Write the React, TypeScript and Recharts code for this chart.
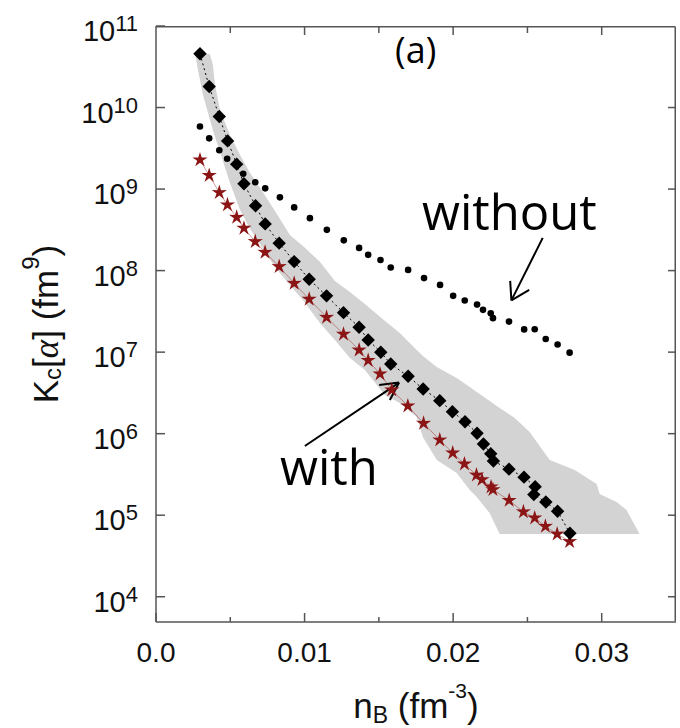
import React from 'react';
import {
  ComposedChart,
  Area,
  Scatter,
  XAxis,
  YAxis,
  ReferenceLine,
  ReferenceDot,
} from 'recharts';

// ---------- data ----------
const withoutX = [0.00296, 0.00358, 0.00426, 0.00479, 0.00587, 0.00668, 0.00735, 0.00834, 0.0093, 0.01036, 0.0115, 0.01264, 0.01367, 0.01428, 0.01511, 0.0158, 0.01697, 0.01804, 0.01912, 0.02, 0.02078, 0.02161, 0.02201, 0.02253, 0.02268, 0.02376, 0.02478, 0.02549, 0.02623, 0.02703, 0.02784];
const withoutY = [5.85e9, 4.19e9, 2.99e9, 2.35e9, 1.54e9, 1.21e9, 1.02e9, 7.91e8, 5.96e8, 4.4e8, 3.16e8, 2.35e8, 1.9e8, 1.56e8, 1.35e8, 1.09e8, 1.02e8, 8.09e7, 6.68e7, 4.9e7, 4.29e7, 3.83e7, 3.3e7, 3.0e7, 2.61e7, 2.37e7, 1.9e7, 1.91e7, 1.45e7, 1.24e7, 9.86e6];

const diamondX = [0.00296, 0.00358, 0.00426, 0.00482, 0.00543, 0.00592, 0.0067, 0.00735, 0.00829, 0.0093, 0.01031, 0.01148, 0.01262, 0.01367, 0.01428, 0.01513, 0.0158, 0.01697, 0.01798, 0.0191, 0.01995, 0.0208, 0.02161, 0.02204, 0.02253, 0.02271, 0.02376, 0.02477, 0.02552, 0.02543, 0.02624, 0.02703, 0.02786];
const diamondY = [4.56e10, 1.81e10, 7.76e9, 3.9e9, 2.02e9, 1.16e9, 6.24e8, 3.74e8, 2.17e8, 1.29e8, 7.84e7, 4.9e7, 3.05e7, 2.02e7, 1.41e7, 9.97e6, 7.16e6, 5.06e6, 3.53e6, 2.54e6, 1.86e6, 1.4e6, 1.01e6, 7.48e5, 5.69e5, 4.62e5, 3.67e5, 2.93e5, 2.24e5, 1.79e5, 1.45e5, 1.12e5, 6.0e4];

const starX = [0.00296, 0.00358, 0.00426, 0.00481, 0.00543, 0.00592, 0.00668, 0.00734, 0.00829, 0.0093, 0.01031, 0.01148, 0.01262, 0.01367, 0.01428, 0.01508, 0.01587, 0.01695, 0.01801, 0.0191, 0.01997, 0.02076, 0.02157, 0.02194, 0.02255, 0.02268, 0.02377, 0.02473, 0.02549, 0.02621, 0.027, 0.02784];
const starY = [2.28e9, 1.47e9, 9.06e8, 6.4e8, 4.5e8, 3.31e8, 2.27e8, 1.68e8, 1.12e8, 7.0e7, 4.46e7, 2.68e7, 1.66e7, 1.06e7, 7.91e6, 5.4e6, 3.44e6, 2.19e6, 1.34e6, 8.37e5, 5.8e5, 4.25e5, 3.11e5, 2.73e5, 2.22e5, 2.06e5, 1.52e5, 1.1e5, 9.25e4, 7.31e4, 5.88e4, 4.76e4];

const bandX = [0.00262, 0.00282, 0.00316, 0.00363, 0.00383, 0.00397, 0.0043, 0.00498, 0.00565, 0.00632, 0.00713, 0.008, 0.00901, 0.00989, 0.01103, 0.01204, 0.01305, 0.01406, 0.0154, 0.01641, 0.01755, 0.01796, 0.0189, 0.02024, 0.02112, 0.02159, 0.02246, 0.02313, 0.02414, 0.02515, 0.0265, 0.02818, 0.02966, 0.02986, 0.031, 0.03167, 0.03255];
const bandLo = [4.69e10, 2.9e10, 1.43e10, 7.06e9, 5.32e9, 4.37e9, 2.86e9, 1.19e9, 5.56e8, 3.25e8, 1.95e8, 1.11e8, 6.68e7, 4.37e7, 2.28e7, 1.41e7, 8.49e6, 6.05e6, 2.99e6, 2.38e6, 1.6e6, 9.12e5, 4.76e5, 3.29e5, 2.04e5, 1.67e5, 1.06e5, 5.88e4, 5.88e4, 5.88e4, 5.88e4, 5.88e4, 5.88e4, 5.88e4, 5.88e4, 5.88e4, 5.88e4];
const bandHi = [4.69e10, 4.69e10, 4.62e10, 4.5e10, 3.34e10, 1.9e10, 9.37e9, 4.62e9, 2.63e9, 1.58e9, 9.51e8, 5.41e8, 2.74e8, 2.01e8, 1.28e8, 7.48e7, 5.48e7, 3.9e7, 2.42e7, 1.72e7, 1.06e7, 8.98e6, 6.58e6, 4.82e6, 3.74e6, 3.25e6, 2.52e6, 2.07e6, 1.56e6, 1.05e6, 4.76e5, 3.59e5, 2.41e5, 1.82e5, 1.45e5, 1.16e5, 5.88e4];

const xTicks = [0, 0.005, 0.01, 0.015, 0.02, 0.025, 0.03];
const xTickLabels = ['0.0', '', '0.01', '', '0.02', '', '0.03'];
const yTicks = [1e4, 1e5, 1e6, 1e7, 1e8, 1e9, 1e10, 1e11];
const yTickExponents = ['4', '5', '6', '7', '8', '9', '10', '11'];

const xDomain = [0, 0.035];
const yDomain = [4900, 1e11];

// frame (top / right edges) and its inward ticks, in data units, just inside the plot
const frameRightX = 0.03495;
const frameTopY = 9.79e10;
const rightTickInnerX = 0.03446;
const topTickMajorY = 7.75e10;
const topTickMinorY = 8.2e10;

// annotation anchors (data coordinates)
const withoutArrowLine = [[0.02603, 2.52e8], [0.02392, 4.31e7]];
const withoutArrowHead = [[0.02384, 7.48e7], [0.02392, 4.31e7], [0.02512, 5.8e7]];
const withArrowLine = [[0.01002, 7.06e5], [0.01636, 4.23e6]];
const withArrowHead = [[0.01502, 3.96e6], [0.01636, 4.23e6], [0.01574, 2.59e6]];
const withoutTextPos = [0.0179, 3.16e8];
const withTextPos = [0.00834, 2.35e5];
const panelTextPos = [0.01748, 3.53e10];

// ---------- derived tables ----------
const bandData = bandX.map((x, i) => ({ x, range: [bandLo[i], bandHi[i]] }));
const withoutData = withoutX.map((x, i) => ({ x, y: withoutY[i] }));
const diamondData = diamondX.map((x, i) => ({ x, y: diamondY[i] }));
const starData = starX.map((x, i) => ({ x, y: starY[i] }));

const FONT = '"Liberation Sans", Arial, sans-serif';
const ANNOT_FONT = '"Open Sans", "Noto Sans", sans-serif';
const AX = '#555';
const TXT = '#111';
const STAR = '#8b1414';

// ---------- tick renderers ----------
const BottomTick = (props: any) => {
  const { x, y, index } = props;
  const label = xTickLabels[index] ?? '';
  const major = label !== '';
  return (
    <g>
      <line x1={x} x2={x} y1={y} y2={y - (major ? 9 : 5)} stroke={AX} strokeWidth={1.5} />
      {major && (
        <text x={x} y={y + 40} textAnchor="middle" fontSize={28} fontFamily={FONT} fill={TXT}>
          {label}
        </text>
      )}
    </g>
  );
};

const LeftTick = (props: any) => {
  const { x, y, index } = props;
  return (
    <g>
      <line x1={x} x2={x + 9} y1={y} y2={y} stroke={AX} strokeWidth={1.5} />
      <text x={x - 18} y={y + 15} textAnchor="end" fontSize={29} fontFamily={FONT} fill={TXT}>
        10
        <tspan fontSize={22} dy={-10}>
          {yTickExponents[index]}
        </tspan>
      </text>
    </g>
  );
};

// ---------- axis titles ----------
const YTitle = (props: any) => {
  const vb = props.viewBox || { x: 0, y: 0, width: 0, height: 0 };
  const bx = vb.x + 58;
  const cy = vb.y + vb.height / 2;
  return (
    <text
      transform={`rotate(-90 ${bx} ${cy})`}
      x={bx}
      y={cy}
      textAnchor="middle"
      fontSize={35}
      fontFamily={FONT}
      fill={TXT}
      style={{ whiteSpace: 'pre' }}
    >
      K<tspan fontSize={24} dy={3}>c</tspan>
      <tspan dy={-3}>[</tspan>
      <tspan fontFamily='"Liberation Serif", serif' fontStyle="italic">α</tspan>
      <tspan>] (fm</tspan>
      <tspan fontSize={24} dy={-19}>9</tspan>
      <tspan dy={19}>)</tspan>
    </text>
  );
};

const XTitle = (props: any) => {
  const vb = props.viewBox || { x: 0, y: 0, width: 0, height: 0 };
  const cx = vb.x + vb.width / 2;
  const by = vb.y + 96;
  return (
    <text x={cx} y={by} textAnchor="middle" fontSize={35} fontFamily={FONT} fill={TXT} style={{ whiteSpace: 'pre' }}>
      n<tspan fontSize={23} dy={5}>B</tspan>
      <tspan dy={-5}> (fm</tspan>
      <tspan fontSize={21} dy={-20}>-3</tspan>
      <tspan dy={20}>)</tspan>
    </text>
  );
};

// ---------- marker shapes ----------
const DiamondShape = (props: any) => {
  const { cx, cy } = props;
  const r = 6.7;
  return <polygon points={`${cx},${cy - r} ${cx + r},${cy} ${cx},${cy + r} ${cx - r},${cy}`} fill="#000" />;
};

const StarShape = (props: any) => {
  const { cx, cy } = props;
  const R = 8;
  const r = 2.9;
  const pts: string[] = [];
  for (let k = 0; k < 10; k++) {
    const a = -Math.PI / 2 + (k * Math.PI) / 5;
    const rad = k % 2 === 0 ? R : r;
    pts.push(`${cx + rad * Math.cos(a)},${cy + rad * Math.sin(a)}`);
  }
  return <polygon points={pts.join(' ')} fill={STAR} />;
};

const DotShape = (props: any) => {
  const { cx, cy } = props;
  return <circle cx={cx} cy={cy} r={3.3} fill="#000" />;
};

const textShape = (content: string, size: number, anchor: string) => (props: any) => (
  <text x={props.cx} y={props.cy} fontSize={size} fontFamily={ANNOT_FONT} fill="#000" textAnchor={anchor}>
    {content}
  </text>
);

const seg = (a: number[], b: number[]) => [
  { x: a[0], y: a[1] },
  { x: b[0], y: b[1] },
];

export default function App() {
  return (
    <div style={{ position: 'absolute', left: 0, top: 0, width: 680, height: 728, background: '#fff' }}>
      <ComposedChart
        width={680}
        height={728}
        data={bandData}
        margin={{ top: 26, right: 4, bottom: 46, left: 0 }}
      >
        <XAxis
          dataKey="x"
          type="number"
          domain={xDomain}
          allowDataOverflow
          ticks={xTicks}
          interval={0}
          tick={<BottomTick />}
          tickLine={false}
          tickSize={0}
          tickMargin={0}
          axisLine={{ stroke: AX, strokeWidth: 1.5 }}
          height={60}
          label={XTitle}
        />
        <YAxis
          type="number"
          scale="log"
          domain={yDomain}
          allowDataOverflow
          ticks={yTicks}
          interval={0}
          tick={<LeftTick />}
          tickLine={false}
          tickSize={0}
          tickMargin={0}
          axisLine={{ stroke: AX, strokeWidth: 1.5 }}
          width={156}
          label={YTitle}
        />
        <Area
          dataKey="range"
          type="linear"
          stroke="none"
          fill="#d3d3d3"
          fillOpacity={1}
          isAnimationActive={false}
          dot={false}
          activeDot={false}
        />
        <Scatter data={withoutData} dataKey="y" shape={<DotShape />} isAnimationActive={false} />
        <Scatter
          data={starData}
          dataKey="y"
          shape={<StarShape />}
          line={{ stroke: STAR, strokeWidth: 0.7, strokeOpacity: 0.6 }}
          isAnimationActive={false}
        />
        <Scatter
          data={diamondData}
          dataKey="y"
          shape={<DiamondShape />}
          line={{ stroke: '#000', strokeWidth: 1, strokeDasharray: '2 3' }}
          isAnimationActive={false}
        />
        {/* frame: top and right edges, with inward ticks */}
        <ReferenceLine
          segment={seg([xDomain[0], frameTopY], [frameRightX, frameTopY])}
          stroke={AX}
          strokeWidth={1.5}
          ifOverflow="visible"
        />
        <ReferenceLine
          segment={seg([frameRightX, 5000], [frameRightX, frameTopY])}
          stroke={AX}
          strokeWidth={1.5}
          ifOverflow="visible"
        />
        {xTicks.slice(1).map((t, i) => (
          <ReferenceLine
            key={`tt${t}`}
            segment={seg([t, frameTopY], [t, xTickLabels[i + 1] !== '' ? topTickMajorY : topTickMinorY])}
            stroke={AX}
            strokeWidth={1.5}
            ifOverflow="visible"
          />
        ))}
        {yTicks.slice(0, -1).map((t) => (
          <ReferenceLine
            key={`rt${t}`}
            segment={seg([frameRightX, t], [rightTickInnerX, t])}
            stroke={AX}
            strokeWidth={1.5}
            ifOverflow="visible"
          />
        ))}
        <ReferenceLine segment={seg(withoutArrowLine[0], withoutArrowLine[1])} stroke="#000" strokeWidth={2} ifOverflow="visible" />
        <ReferenceLine segment={seg(withoutArrowHead[0], withoutArrowHead[1])} stroke="#000" strokeWidth={2} ifOverflow="visible" />
        <ReferenceLine segment={seg(withoutArrowHead[1], withoutArrowHead[2])} stroke="#000" strokeWidth={2} ifOverflow="visible" />
        <ReferenceLine segment={seg(withArrowLine[0], withArrowLine[1])} stroke="#000" strokeWidth={2} ifOverflow="visible" />
        <ReferenceLine segment={seg(withArrowHead[0], withArrowHead[1])} stroke="#000" strokeWidth={2} ifOverflow="visible" />
        <ReferenceLine segment={seg(withArrowHead[1], withArrowHead[2])} stroke="#000" strokeWidth={2} ifOverflow="visible" />
        <ReferenceDot x={withoutTextPos[0]} y={withoutTextPos[1]} r={0} ifOverflow="visible" shape={textShape('without', 49, 'start')} />
        <ReferenceDot x={withTextPos[0]} y={withTextPos[1]} r={0} ifOverflow="visible" shape={textShape('with', 49, 'start')} />
        <ReferenceDot x={panelTextPos[0]} y={panelTextPos[1]} r={0} ifOverflow="visible" shape={textShape('(a)', 36, 'middle')} />
      </ComposedChart>
    </div>
  );
}
